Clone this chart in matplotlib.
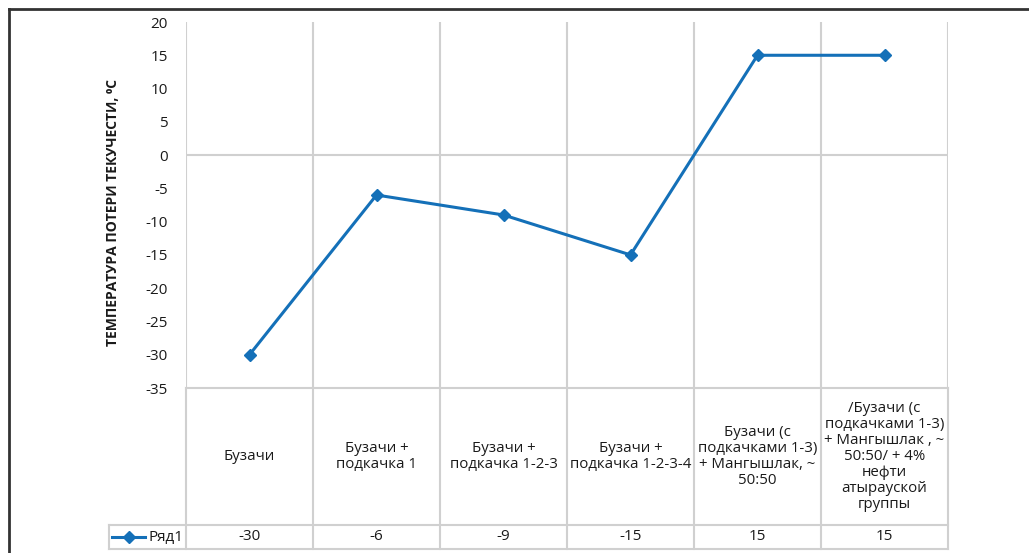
import matplotlib.pyplot as plt
from matplotlib.lines import Line2D
import numpy as np

# Данные графика
categories = [
    'Бузачи',
    'Бузачи +\nподкачка 1',
    'Бузачи +\nподкачка 1-2-3',
    'Бузачи +\nподкачка 1-2-3-4',
    'Бузачи (с\nподкачками 1-3)\n+ Мангышлак, ~\n50:50',
    '/Бузачи (с\nподкачками 1-3)\n+ Мангышлак , ~\n50:50/ + 4%\nнефти\nатырауской\nгруппы',
]
values = [-30, -6, -9, -15, 15, 15]
series_name = 'Ряд1'
y_ticks = [20, 15, 10, 5, 0, -5, -10, -15, -20, -25, -30, -35]
y_label = 'ТЕМПЕРАТУРА ПОТЕРИ ТЕКУЧЕСТИ, ⁰С'

plt.rcParams['font.family'] = ['Open Sans', 'DejaVu Sans']
plt.rcParams['axes.unicode_minus'] = False

W, H = 1029, 553
blue = '#1470b8'
grid = '#d0d0d0'
txt = '#1a1a1a'
fs = 10.8

fig = plt.figure(figsize=(W / 100, H / 100), dpi=100)

def fx(px):
    return px / W

def fy(py):
    return 1 - py / H

n = len(categories)
x = np.arange(n) + 0.5

# Область графика
ax = fig.add_axes([fx(186), fy(388), fx(948 - 186), (388 - 22) / H])
ax.set_xlim(0, n)
ax.set_ylim(-35, 20)
for s in ax.spines.values():
    s.set_visible(False)
for i in range(n + 1):
    ax.axvline(i, color=grid, lw=1.5, zorder=1)
ax.axhline(0, color=grid, lw=1.5, zorder=1)
ax.plot(x, values, color=blue, lw=2.2, marker='D', ms=6, zorder=3)
ax.set_xticks([])
ax.set_yticks(y_ticks)
ax.tick_params(axis='y', length=0, pad=13, labelsize=11, labelcolor=txt)
fig.text(fx(113), fy(212), y_label, rotation=90, ha='center', va='center',
         fontsize=10, fontweight='bold', color=txt)

# Таблица данных
tb = fig.add_axes([fx(186), fy(549), fx(948 - 186), (549 - 388) / H])
tb.set_xlim(0, n)
tb.set_ylim(161, 0)
tb.axis('off')
leg_x = -(186 - 109) / 127
row_y = 137
for i in range(n + 1):
    tb.plot([i, i], [0, 161], color=grid, lw=1.5, clip_on=False)
tb.plot([0, n], [0, 0], color=grid, lw=1.5, clip_on=False)
tb.plot([leg_x, n], [row_y, row_y], color=grid, lw=1.5, clip_on=False)
tb.plot([leg_x, n], [161, 161], color=grid, lw=1.5, clip_on=False)
tb.plot([leg_x, leg_x], [row_y, 161], color=grid, lw=1.5, clip_on=False)
for xi, cat, v in zip(x, categories, values):
    tb.text(xi, row_y / 2, cat, ha='center', va='center', fontsize=fs,
            linespacing=1.1, color=txt)
    tb.text(xi, (row_y + 161) / 2, str(v), ha='center', va='center',
            fontsize=11, color=txt)

# Легенда в таблице
mid = (row_y + 161) / 2
tb.plot([leg_x + 3 / 127, leg_x + 36 / 127], [mid, mid], color=blue, lw=2.2, clip_on=False)
tb.plot([leg_x + 20 / 127], [mid], color=blue, marker='D', ms=6, clip_on=False)
tb.text(leg_x + 39 / 127, mid, series_name, ha='left', va='center',
        fontsize=11, color=txt)

# Рамка
fig.add_artist(Line2D([fx(9), 1], [fy(9), fy(9)], color='#333333', lw=2))
fig.add_artist(Line2D([fx(9), fx(9)], [fy(9), 0], color='#333333', lw=2))

fig.savefig('out.png', dpi=100)
